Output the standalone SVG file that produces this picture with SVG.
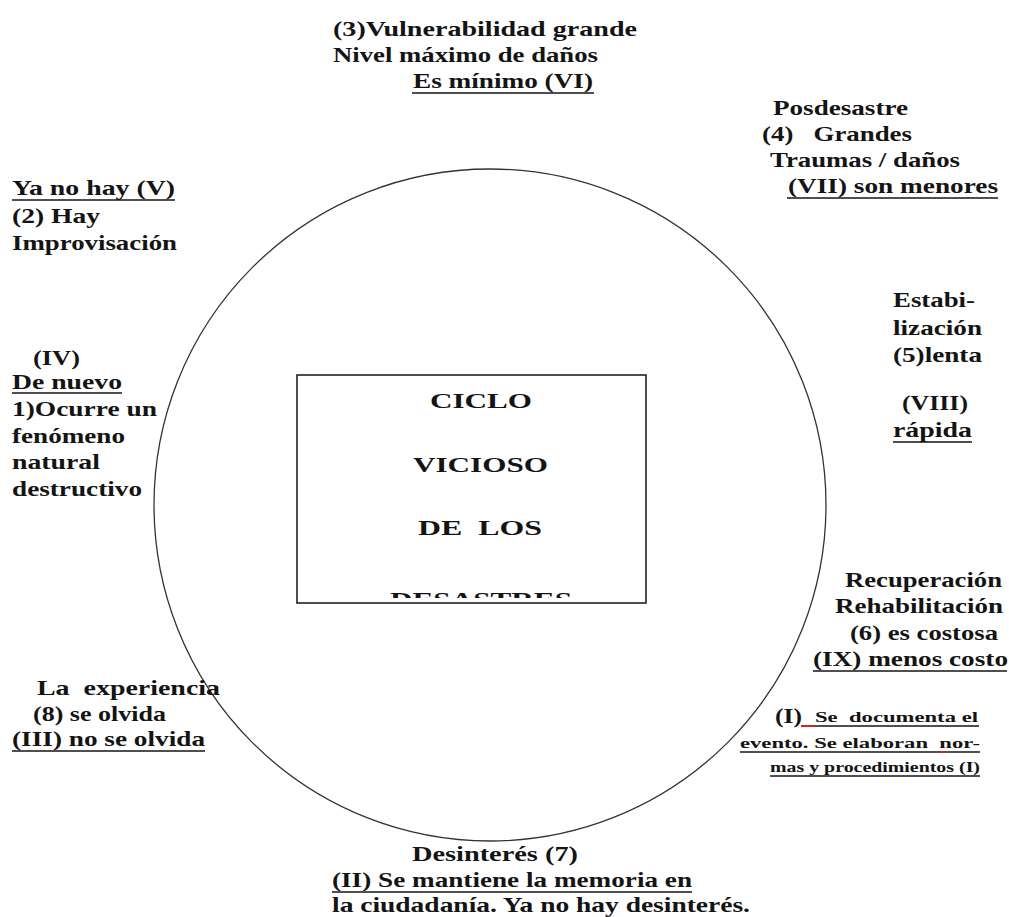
<svg xmlns="http://www.w3.org/2000/svg" width="1009" height="917" viewBox="0 0 1009 917">
<style>
text{font-family:'Liberation Serif','Times New Roman',serif;font-weight:bold;font-size:22px;fill:#141414}
text.s{font-size:15px}
.u{stroke:#141414;stroke-width:1.5}
.r{stroke:#e02020;stroke-width:1.8}
</style>
<defs>
<clipPath id="boxclip"><rect x="297" y="375" width="349" height="223"/></clipPath>
</defs>
<rect width="1009" height="917" fill="#fff"/>
<g id="cycle">
<circle cx="490" cy="505" r="336" fill="none" stroke="#333" stroke-width="1.3"/>
</g>
<g id="center-box">
<rect x="297" y="375" width="349" height="228" fill="none" stroke="#222" stroke-width="1.6"/>
<g clip-path="url(#boxclip)">
<text x="430" y="408" textLength="102" lengthAdjust="spacingAndGlyphs">CICLO</text>
<text x="413" y="472" textLength="135" lengthAdjust="spacingAndGlyphs">VICIOSO</text>
<text x="418" y="535" textLength="124" lengthAdjust="spacingAndGlyphs" xml:space="preserve">DE  LOS</text>
<text x="390" y="607" textLength="182" lengthAdjust="spacingAndGlyphs">DESASTRES</text>
</g>
</g>
<g id="label-3">
<text x="333" y="36" textLength="304" lengthAdjust="spacingAndGlyphs">(3)Vulnerabilidad grande</text>
<text x="333" y="62" textLength="265" lengthAdjust="spacingAndGlyphs">Nivel máximo de daños</text>
<text x="413" y="88" textLength="180" lengthAdjust="spacingAndGlyphs">Es mínimo (VI)</text>
<line class="u" x1="412" y1="93" x2="594" y2="93"/>
</g>
<g id="label-4">
<text x="773" y="115" textLength="135" lengthAdjust="spacingAndGlyphs">Posdesastre</text>
<text x="762" y="141" textLength="150" lengthAdjust="spacingAndGlyphs" xml:space="preserve">(4)   Grandes</text>
<text x="770" y="167" textLength="190" lengthAdjust="spacingAndGlyphs">Traumas / daños</text>
<text x="788" y="193" textLength="210" lengthAdjust="spacingAndGlyphs">(VII) son menores</text>
<line class="u" x1="787" y1="198" x2="998" y2="198"/>
</g>
<g id="label-2">
<text x="12" y="195" textLength="163" lengthAdjust="spacingAndGlyphs">Ya no hay (V)</text>
<line class="u" x1="12" y1="200" x2="175" y2="200"/>
<text x="12" y="223" textLength="88" lengthAdjust="spacingAndGlyphs">(2) Hay</text>
<text x="12" y="250" textLength="165" lengthAdjust="spacingAndGlyphs">Improvisación</text>
</g>
<g id="label-1">
<text x="33" y="365" textLength="47" lengthAdjust="spacingAndGlyphs">(IV)</text>
<text x="12" y="389" textLength="110" lengthAdjust="spacingAndGlyphs">De nuevo</text>
<line class="u" x1="12" y1="393" x2="122" y2="393"/>
<text x="12" y="416" textLength="145" lengthAdjust="spacingAndGlyphs">1)Ocurre un</text>
<text x="12" y="443" textLength="113" lengthAdjust="spacingAndGlyphs">fenómeno</text>
<text x="12" y="469" textLength="88" lengthAdjust="spacingAndGlyphs">natural</text>
<text x="12" y="496" textLength="130" lengthAdjust="spacingAndGlyphs">destructivo</text>
</g>
<g id="label-5">
<text x="893" y="307" textLength="82" lengthAdjust="spacingAndGlyphs">Estabi-</text>
<text x="893" y="335" textLength="89" lengthAdjust="spacingAndGlyphs">lización</text>
<text x="893" y="362" textLength="89" lengthAdjust="spacingAndGlyphs">(5)lenta</text>
<text x="902" y="410" textLength="66" lengthAdjust="spacingAndGlyphs">(VIII)</text>
<text x="893" y="437" textLength="79" lengthAdjust="spacingAndGlyphs">rápida</text>
<line class="u" x1="893" y1="442" x2="972" y2="442"/>
</g>
<g id="label-6">
<text x="845" y="587" textLength="157" lengthAdjust="spacingAndGlyphs">Recuperación</text>
<text x="835" y="613" textLength="168" lengthAdjust="spacingAndGlyphs">Rehabilitación</text>
<text x="850" y="640" textLength="148" lengthAdjust="spacingAndGlyphs">(6) es costosa</text>
<text x="813" y="666" textLength="195" lengthAdjust="spacingAndGlyphs">(IX) menos costo</text>
<line class="u" x1="813" y1="671" x2="1007" y2="671"/>
</g>
<g id="label-I">
<text x="775" y="723" textLength="27" lengthAdjust="spacingAndGlyphs">(I)</text>
<text class="s" x="815" y="722" textLength="163" lengthAdjust="spacingAndGlyphs" xml:space="preserve">Se  documenta el</text>
<line class="u" x1="801" y1="726" x2="979" y2="726"/>
<line class="r" x1="801" y1="726" x2="815" y2="726"/>
<text class="s" x="740" y="748" textLength="240" lengthAdjust="spacingAndGlyphs" xml:space="preserve">evento. Se elaboran  nor-</text>
<line class="u" x1="740" y1="752" x2="980" y2="752"/>
<line class="r" x1="939" y1="752" x2="947" y2="752"/>
<text class="s" x="770" y="772" textLength="210" lengthAdjust="spacingAndGlyphs">mas y procedimientos (I)</text>
<line class="u" x1="770" y1="776" x2="980" y2="776"/>
</g>
<g id="label-8">
<text x="37" y="695" textLength="183" lengthAdjust="spacingAndGlyphs" xml:space="preserve">La  experiencia</text>
<text x="33" y="721" textLength="133" lengthAdjust="spacingAndGlyphs">(8) se olvida</text>
<text x="12" y="746" textLength="193" lengthAdjust="spacingAndGlyphs">(III) no se olvida</text>
<line class="u" x1="12" y1="751" x2="205" y2="751"/>
</g>
<g id="label-7">
<text x="412" y="861" textLength="166" lengthAdjust="spacingAndGlyphs">Desinterés (7)</text>
<text x="332" y="887" textLength="360" lengthAdjust="spacingAndGlyphs">(II) Se mantiene la memoria en</text>
<line class="u" x1="332" y1="892" x2="692" y2="892"/>
<text x="332" y="912" textLength="418" lengthAdjust="spacingAndGlyphs">la ciudadanía. Ya no hay desinterés.</text>
</g>
</svg>
